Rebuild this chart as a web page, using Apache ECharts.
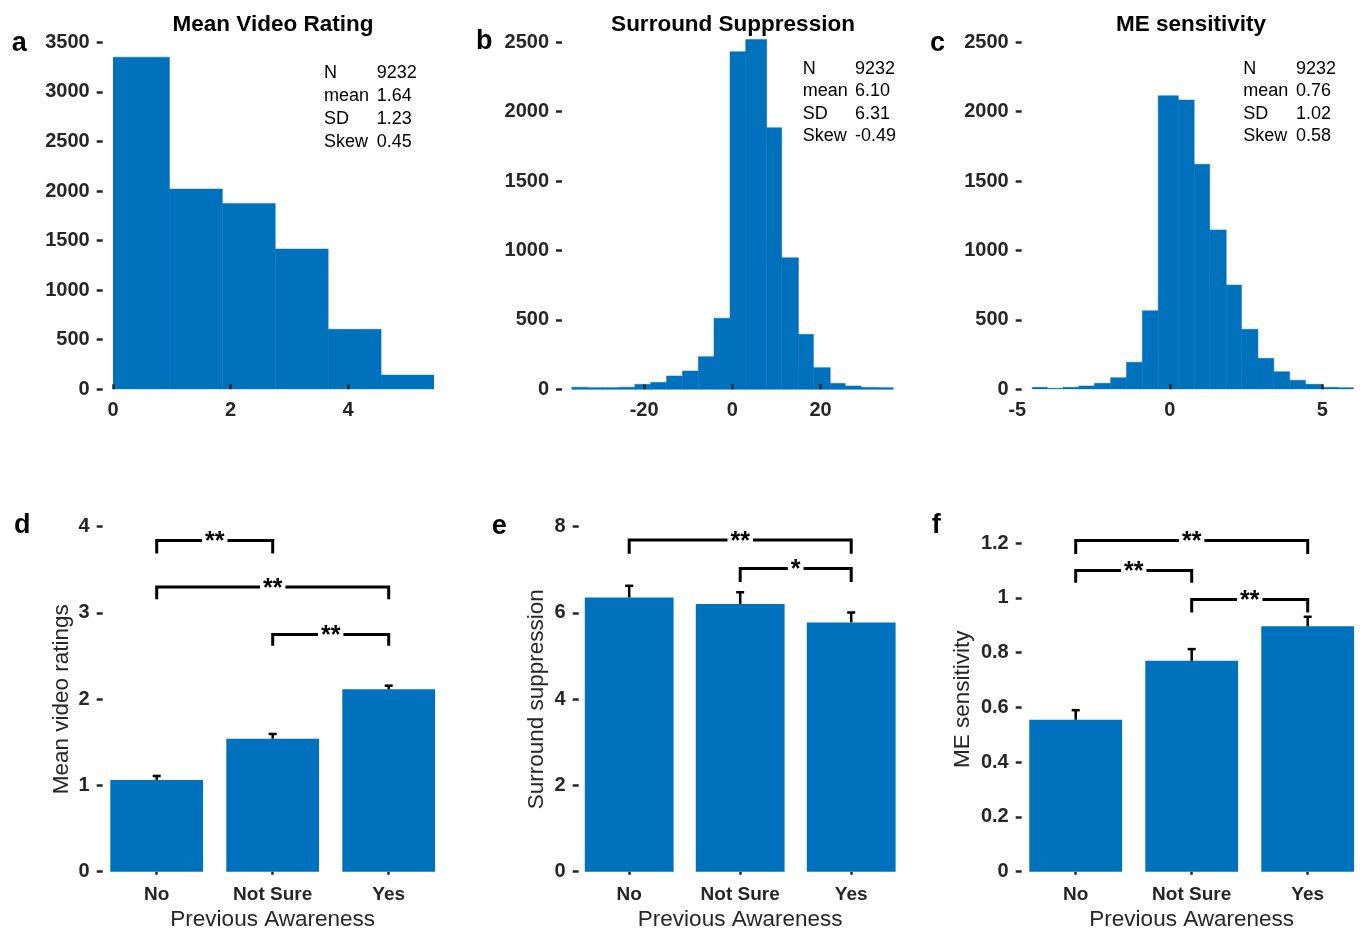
<!DOCTYPE html>
<html><head><meta charset="utf-8">
<script src="https://cdn.jsdelivr.net/npm/echarts@6/dist/echarts.min.js"></script>
<style>html,body{margin:0;padding:0;background:#fff}#c{width:1362px;height:934px}</style>
</head><body><div id="c"></div>
<script>
// ---------- data ----------
const histTitles = ['Mean Video Rating', 'Surround Suppression', 'ME sensitivity'];
const histA_edges = [0, 0.96, 1.86, 2.76, 3.66, 4.56, 5.46];
const histA_counts = [3350, 2020, 1875, 1415, 605, 144];
const histB_edges = [-36.4, -32.8, -29.3, -25.6, -22.1, -18.5, -14.9, -11.3, -7.7, -4.15, -0.52, 3.04, 7.8, 11.2, 15.0, 18.4, 22.2, 25.6, 29.2, 32.7, 36.5];
const histB_counts = [15, 12, 12, 15, 36, 50, 96, 132, 235, 512, 2432, 2520, 1885, 948, 396, 156, 43, 24, 14, 12];
const histC_edges = [-4.51, -4.02, -3.50, -2.98, -2.47, -1.94, -1.42, -0.90, -0.38, 0.28, 0.80, 1.31, 1.85, 2.35, 2.89, 3.41, 3.93, 4.45, 5.00, 5.51, 6.02];
const histC_counts = [14, 7, 14, 24, 43, 84, 195, 566, 2115, 2084, 1621, 1148, 751, 432, 223, 127, 65, 36, 14, 12];
const histA_ticks = [0, 2, 4];
const histB_ticks = [-20, 0, 20];
const histC_labels = [-5, 0, 5];
const histC_ticks = [0, 5];

const statLabels = ['N', 'mean', 'SD', 'Skew'];
const statsA = ['9232', '1.64', '1.23', '0.45'];
const statsB = ['9232', '6.10', '6.31', '-0.49'];
const statsC = ['9232', '0.76', '1.02', '0.58'];

const categories = ['No', 'Not Sure', 'Yes'];
const ratingMeans = [1.063, 1.542, 2.115];
const ratingUpper = [1.11, 1.597, 2.157];
const suppMeans = [6.36, 6.21, 5.78];
const suppUpper = [6.63, 6.48, 6.01];
const meMeans = [0.555, 0.770, 0.896];
const meUpper = [0.59, 0.813, 0.931];
const meTicks = [0, 0.2, 0.4, 0.6, 0.8, 1, 1.2];

// brackets: [fromCat, toCat, lineY, endY, label]
const ratingBrackets = [[0, 1, 3.84, 3.69, '**'], [0, 2, 3.30, 3.16, '**'], [1, 2, 2.75, 2.62, '**']];
const suppBrackets = [[0, 2, 7.69, 7.37, '**'], [1, 2, 7.03, 6.72, '*']];
const meBrackets = [[0, 2, 1.21, 1.16, '**'], [0, 1, 1.10, 1.055, '**'], [1, 2, 0.994, 0.947, '**']];

const panelLetters = ['a', 'b', 'c', 'd', 'e', 'f'];
const yNames = ['Mean video ratings', 'Surround suppression', 'ME sensitivity'];

// ---------- style ----------
const BLUE = '#0071BC';
const DARK = '#262626';
const FF = '"Liberation Sans", Arial, Helvetica, sans-serif';

const grids = [
  {left: 113, top: 42.3, width: 321, height: 347},
  {left: 571.3, top: 42.3, width: 322, height: 347},
  {left: 1017.3, top: 42.3, width: 336.1, height: 347},
  {left: 98.7, top: 526.7, width: 348, height: 345},
  {left: 573.7, top: 526.7, width: 333, height: 345},
  {left: 1017.7, top: 526.7, width: 348, height: 345}
].map(g => Object.assign({outerBoundsMode: 'none', containLabel: false}, g));

const tickLabel = {fontFamily: FF, fontWeight: 'bold', fontSize: 20, color: DARK, formatter: v => String(v)};
const nameStyle = {fontFamily: FF, fontSize: 22.5, color: DARK};

function histX(i, min, max, labels, ticks) {
  return {
    type: 'value', gridIndex: i, min: min, max: max, z: 10,
    axisLine: {show: false, onZero: false}, splitLine: {show: false},
    axisTick: {show: true, inside: true, length: 5, customValues: ticks, lineStyle: {color: DARK, width: 2.5}},
    axisLabel: Object.assign({margin: 11, customValues: labels}, tickLabel)
  };
}
function yAx(i, min, max, interval, offset, extra) {
  return Object.assign({
    type: 'value', gridIndex: i, min: min, max: max, interval: interval, offset: offset,
    axisLine: {show: false, onZero: false}, splitLine: {show: false},
    axisTick: {show: true, length: 6, lineStyle: {color: DARK, width: 2.5}},
    axisLabel: Object.assign({margin: 13}, tickLabel)
  }, extra || {});
}
function catX(i) {
  return {
    type: 'category', gridIndex: i, data: categories, boundaryGap: true,
    axisLine: {show: false, onZero: false}, splitLine: {show: false},
    axisTick: {show: true, alignWithLabel: true, length: 3, lineStyle: {color: DARK, width: 2.5}},
    axisLabel: Object.assign({}, tickLabel, {margin: 14, interval: 0, fontSize: 19, formatter: null}),
    name: 'Previous Awareness', nameLocation: 'middle', nameGap: 37,
    nameTextStyle: nameStyle
  };
}

function histSeries(i, edges, counts, clip) {
  return {
    type: 'custom', xAxisIndex: i, yAxisIndex: i, clip: clip,
    data: counts.map((c, k) => [edges[k], edges[k + 1], c]),
    encode: {x: [0, 1], y: 2},
    renderItem: function (params, api) {
      const p0 = api.coord([api.value(0), 0]);
      const p1 = api.coord([api.value(1), api.value(2)]);
      return {type: 'rect', shape: {x: p0[0], y: p1[1], width: p1[0] - p0[0], height: p0[1] - p1[1]},
        style: {fill: BLUE, stroke: BLUE, lineWidth: 0.5}};
    }
  };
}
function barSeries(i, values) {
  return {type: 'bar', xAxisIndex: i, yAxisIndex: i, data: values, barWidth: '80%',
    itemStyle: {color: BLUE}, silent: true, z: 2};
}
function errSeries(i, means, upper) {
  return {
    type: 'custom', xAxisIndex: i, yAxisIndex: i, z: 5,
    data: means.map((m, k) => [k, m, upper[k]]),
    encode: {x: 0, y: [1, 2]},
    renderItem: function (params, api) {
      const b = api.coord([api.value(0), api.value(1)]);
      const t = api.coord([api.value(0), api.value(2)]);
      return {type: 'group', children: [
        {type: 'line', shape: {x1: b[0], y1: b[1], x2: t[0], y2: t[1]}, style: {stroke: '#000', lineWidth: 2.5}},
        {type: 'line', shape: {x1: t[0] - 4, y1: t[1], x2: t[0] + 4, y2: t[1]}, style: {stroke: '#000', lineWidth: 2.5}}
      ]};
    }
  };
}
function bracketSeries(i, brackets) {
  return {
    type: 'custom', xAxisIndex: i, yAxisIndex: i, z: 6, clip: false,
    data: brackets.map(b => [b[0], b[1], b[2], b[3]]),
    encode: {x: [0, 1], y: [2, 3]},
    renderItem: function (params, api) {
      const a0 = api.coord([api.value(0), api.value(3)]);
      const a1 = api.coord([api.value(0), api.value(2)]);
      const b1 = api.coord([api.value(1), api.value(2)]);
      const b0 = api.coord([api.value(1), api.value(3)]);
      const label = brackets[params.dataIndex][4];
      return {type: 'group', children: [
        {type: 'polyline', shape: {points: [a0, a1, b1, b0]}, style: {stroke: '#000', lineWidth: 3, fill: null}},
        {type: 'text', x: (a1[0] + b1[0]) / 2, y: a1[1] + 2,
          style: {text: label, font: 'bold 25px ' + FF, fill: '#000', align: 'center', verticalAlign: 'middle',
            textAlign: 'center', textVerticalAlign: 'middle', backgroundColor: '#fff', padding: [0, 3]}}
      ]};
    }
  };
}

// ---------- graphic texts ----------
const graphic = [];
const letterPos = [[11.7, 44], [476, 42], [930, 44], [14, 526], [491.7, 527], [931.7, 526]];
panelLetters.forEach((l, k) => {
  graphic.push({type: 'text', x: letterPos[k][0], y: letterPos[k][1],
    style: {text: l, font: 'bold 27px ' + FF, fill: '#000', align: 'left', verticalAlign: 'middle', textAlign: 'left', textVerticalAlign: 'middle'}});
});
const statSets = [
  {vals: statsA, lx: 324, vx: 376.7, rows: [73.3, 96.2, 119.3, 141.7]},
  {vals: statsB, lx: 802.7, vx: 855, rows: [68.8, 91.3, 113.8, 136.3]},
  {vals: statsC, lx: 1243.3, vx: 1296, rows: [68.8, 91.3, 113.8, 136.3]}
];
statSets.forEach(s => {
  statLabels.forEach((lab, r) => {
    graphic.push({type: 'text', x: s.lx, y: s.rows[r],
      style: {text: lab, font: '18px ' + FF, fill: '#000', align: 'left', verticalAlign: 'middle', textAlign: 'left', textVerticalAlign: 'middle'}});
    graphic.push({type: 'text', x: s.vx, y: s.rows[r],
      style: {text: s.vals[r], font: '18px ' + FF, fill: '#000', align: 'left', verticalAlign: 'middle', textAlign: 'left', textVerticalAlign: 'middle'}});
  });
});

const titleCenters = [268, 728, 1186];
const option = {
  animation: false,
  backgroundColor: '#fff',
  title: histTitles.map((t, k) => ({text: t, left: titleCenters[k], top: 8, textAlign: 'center',
    textStyle: {fontFamily: FF, fontWeight: 'bold', fontSize: 22.5, color: '#000'}})),
  grid: grids,
  xAxis: [
    histX(0, 0, 5.46, histA_ticks, histA_ticks),
    histX(1, -36.5, 36.5, histB_ticks, histB_ticks),
    histX(2, -5, 6.02, histC_labels, histC_ticks),
    catX(3), catX(4), catX(5)
  ],
  yAxis: [
    yAx(0, 0, 3500, 500, 10.3),
    yAx(1, 0, 2500, 500, 9.3),
    yAx(2, 0, 2500, 500, -4.4),
    yAx(3, 0, 4, 1, -4, {name: yNames[0], nameLocation: 'middle', nameGap: 29, nameTextStyle: nameStyle}),
    yAx(4, 0, 8, 2, -5, {name: yNames[1], nameLocation: 'middle', nameGap: 30, nameTextStyle: nameStyle}),
    yAx(5, 0, 1.26, null, -4, {name: yNames[2], nameLocation: 'middle', nameGap: 47, nameTextStyle: nameStyle,
      axisTick: {show: true, length: 6, customValues: meTicks, lineStyle: {color: DARK, width: 2.5}},
      axisLabel: Object.assign({margin: 13, customValues: meTicks}, tickLabel)})
  ],
  series: [
    histSeries(0, histA_edges, histA_counts, true),
    histSeries(1, histB_edges, histB_counts, false),
    histSeries(2, histC_edges, histC_counts, true),
    barSeries(3, ratingMeans), errSeries(3, ratingMeans, ratingUpper), bracketSeries(3, ratingBrackets),
    barSeries(4, suppMeans), errSeries(4, suppMeans, suppUpper), bracketSeries(4, suppBrackets),
    barSeries(5, meMeans), errSeries(5, meMeans, meUpper), bracketSeries(5, meBrackets)
  ],
  graphic: graphic
};
const chart = echarts.init(document.getElementById('c'), null, {renderer: 'canvas'});
chart.setOption(option);
</script>
</body></html>
